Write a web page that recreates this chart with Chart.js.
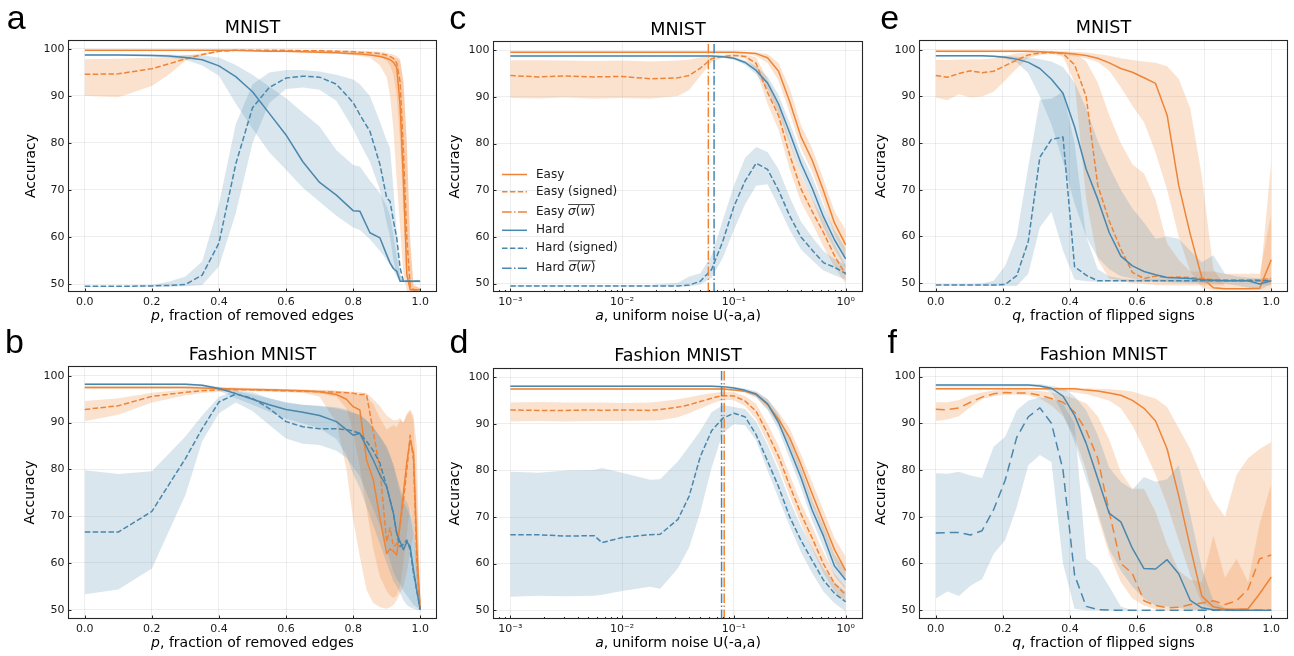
<!DOCTYPE html>
<html><head><meta charset="utf-8">
<script src="https://cdn.jsdelivr.net/npm/chart.js@4.4.1/dist/chart.umd.min.js"></script>
<style>
html,body{margin:0;padding:0;background:#fff;}
#root{position:relative;width:1294px;height:656px;overflow:hidden;background:#fff;}
canvas{position:absolute;}
.lt{position:absolute;font-family:'Liberation Sans',Arial,sans-serif;font-size:34px;line-height:34px;color:#000;}
</style></head><body><div id="root">
<canvas id="pa" width="440" height="330" style="left:0px;top:0px;width:440px;height:330px"></canvas>
<canvas id="pc" width="425" height="330" style="left:440px;top:0px;width:425px;height:330px"></canvas>
<canvas id="pe" width="429" height="330" style="left:865px;top:0px;width:429px;height:330px"></canvas>
<canvas id="pb" width="440" height="326" style="left:0px;top:330px;width:440px;height:326px"></canvas>
<canvas id="pd" width="425" height="326" style="left:440px;top:330px;width:425px;height:326px"></canvas>
<canvas id="pf" width="429" height="326" style="left:865px;top:330px;width:429px;height:326px"></canvas>
<div class="lt" style="left:6.7px;top:0px">a</div>
<div class="lt" style="left:449.3px;top:0px">c</div>
<div class="lt" style="left:880.3px;top:0px">e</div>
<div class="lt" style="left:5.1px;top:324px">b</div>
<div class="lt" style="left:449.5px;top:324px">d</div>
<div class="lt" style="left:887.6px;top:324px">f</div>
</div>
<script>
// ---------- data ----------
const A_X = [0, 0.1, 0.2, 0.25, 0.3, 0.35, 0.4, 0.45, 0.5, 0.55, 0.6, 0.65, 0.7, 0.75, 0.8, 0.82, 0.85, 0.88, 0.9, 0.91, 0.92, 0.93, 0.94, 0.95, 0.96, 0.97, 0.98, 1.0];
const A_EASY = [99.7, 99.7, 99.7, 99.7, 99.7, 99.7, 99.7, 99.7, 99.6, 99.5, 99.5, 99.4, 99.3, 99.2, 99.0, 98.9, 98.7, 98.4, 98.0, 97.7, 97.2, 96.0, 88.0, 72.0, 52.0, 48.8, 48.8, 48.8];
const A_EASY_LO = [99.5, 99.5, 99.5, 99.5, 99.5, 99.5, 99.5, 99.5, 99.4, 99.3, 99.3, 99.2, 99.1, 99.0, 98.7, 98.5, 98.2, 96.5, 94.0, 90.0, 83.0, 72.0, 62.0, 52.0, 48.5, 48.3, 48.3, 48.3];
const A_EASY_HI = [99.85, 99.85, 99.85, 99.85, 99.85, 99.85, 99.85, 99.85, 99.8, 99.75, 99.7, 99.65, 99.6, 99.5, 99.4, 99.3, 99.1, 98.9, 98.6, 98.4, 98.2, 98.0, 97.5, 93.0, 80.0, 58.0, 49.5, 49.2];
const A_EASYS = [94.6, 94.7, 95.8, 96.8, 97.9, 98.8, 99.5, 99.7, 99.7, 99.7, 99.7, 99.6, 99.6, 99.5, 99.4, 99.3, 99.2, 99.0, 98.7, 98.4, 98.0, 97.0, 93.0, 78.0, 60.0, 49.5, 48.8, 48.8];
const A_EASYS_LO = [90.0, 89.7, 92.1, 94.5, 97.5, 98.5, 99.3, 99.5, 99.5, 99.5, 99.5, 99.4, 99.4, 99.3, 99.1, 99.0, 98.8, 98.3, 97.5, 96.5, 94.5, 90.0, 80.0, 65.0, 52.0, 48.7, 48.5, 48.5];
const A_EASYS_HI = [97.8, 97.9, 98.1, 98.3, 98.6, 99.1, 99.7, 99.85, 99.85, 99.85, 99.85, 99.8, 99.8, 99.7, 99.65, 99.6, 99.5, 99.4, 99.2, 99.0, 98.8, 98.5, 97.8, 93.0, 80.0, 60.0, 50.0, 49.0];
const A_HARD = [98.7, 98.7, 98.6, 98.5, 98.2, 97.7, 96.4, 94.1, 90.9, 86.3, 81.7, 76.0, 71.6, 68.9, 65.6, 65.5, 60.9, 59.8, 56.2, 54.5, 53.3, 52.7, 50.6, 50.6, 50.6, 50.6, 50.6, 50.6];
const A_HARD_LO = [98.5, 98.5, 98.4, 98.2, 97.7, 96.5, 94.3, 88.4, 83.0, 78.0, 74.3, 70.5, 67.5, 64.5, 62.0, 61.5, 59.5, 57.0, 55.1, 54.0, 53.0, 51.5, 50.5, 50.4, 50.4, 50.4, 50.4, 50.4];
const A_HARD_HI = [98.9, 98.9, 98.9, 98.8, 98.7, 98.6, 98.2, 96.6, 94.5, 92.0, 89.5, 86.5, 83.5, 78.5, 75.3, 75.0, 72.0, 69.3, 66.5, 64.5, 60.5, 55.8, 52.0, 50.8, 50.8, 50.8, 50.8, 50.8];
const A_HARDS = [49.5, 49.5, 49.6, 49.7, 49.9, 51.9, 58.7, 75.5, 87.5, 91.8, 93.8, 94.2, 94.0, 92.5, 88.6, 86.0, 82.5, 75.4, 68.3, 67.6, 63.5, 59.8, 53.4, 50.6, 50.6, 50.6, 50.6, 50.6];
const A_HARDS_LO = [49.4, 49.4, 49.4, 49.4, 49.5, 49.8, 53.7, 65.0, 80.0, 88.5, 91.5, 91.8, 91.3, 89.0, 83.0, 80.0, 76.0, 70.0, 63.0, 60.0, 55.0, 52.0, 50.5, 50.4, 50.4, 50.4, 50.4, 50.4];
const A_HARDS_HI = [49.6, 49.6, 49.8, 50.5, 51.6, 54.8, 67.0, 84.0, 92.5, 95.0, 95.5, 95.5, 95.2, 94.5, 93.5, 92.5, 90.0, 84.5, 80.5, 79.0, 70.4, 61.0, 52.0, 50.8, 50.8, 50.8, 50.8, 50.8];

const B_X = [0, 0.1, 0.2, 0.3, 0.35, 0.4, 0.45, 0.5, 0.55, 0.6, 0.65, 0.7, 0.75, 0.78, 0.8, 0.82, 0.84, 0.86, 0.88, 0.9, 0.91, 0.92, 0.93, 0.94, 0.95, 0.96, 0.97, 0.98, 0.99, 1.0];
const B_EASY = [97.5, 97.5, 97.5, 97.5, 97.4, 97.3, 97.2, 97.1, 97.0, 96.9, 96.8, 96.6, 96.0, 95.0, 93.4, 92.7, 82.0, 77.8, 69.5, 62.0, 63.0, 62.5, 61.7, 68.5, 75.0, 81.5, 86.3, 83.4, 63.0, 50.0];
const B_EASY_LO = [97.2, 97.2, 97.2, 97.2, 97.1, 97.0, 96.9, 96.8, 96.7, 96.6, 96.4, 95.5, 90.0, 80.0, 69.2, 61.3, 54.2, 51.4, 50.5, 50.2, 50.5, 51.0, 52.0, 53.5, 55.0, 58.0, 62.0, 66.0, 56.0, 49.8];
const B_EASY_HI = [97.8, 97.8, 97.8, 97.8, 97.7, 97.6, 97.5, 97.4, 97.3, 97.2, 97.1, 97.0, 96.8, 96.5, 96.3, 96.0, 95.5, 94.0, 91.0, 88.5, 89.0, 89.5, 89.0, 90.5, 90.0, 91.5, 92.5, 90.5, 75.0, 50.2];
const B_EASYS = [92.8, 93.6, 95.6, 96.5, 96.8, 97.0, 97.0, 97.0, 96.9, 96.8, 96.7, 96.6, 96.5, 96.4, 96.3, 96.0, 96.0, 88.0, 80.0, 64.5, 67.5, 63.5, 64.0, 68.0, 73.4, 79.8, 87.3, 82.0, 60.0, 50.0];
const B_EASYS_LO = [90.3, 91.7, 94.3, 95.8, 96.3, 96.6, 96.7, 96.7, 96.6, 96.5, 96.4, 96.2, 95.5, 93.0, 88.0, 80.5, 71.5, 63.0, 57.0, 54.0, 53.0, 52.5, 53.0, 55.0, 60.0, 66.0, 72.0, 68.0, 55.0, 49.8];
const B_EASYS_HI = [94.6, 95.2, 96.4, 97.1, 97.2, 97.3, 97.3, 97.3, 97.2, 97.1, 97.0, 96.9, 96.8, 96.7, 96.6, 96.5, 96.3, 95.0, 93.5, 91.5, 91.0, 90.5, 90.5, 91.0, 90.0, 92.0, 92.8, 91.5, 85.0, 50.2];
const B_HARD = [98.2, 98.2, 98.2, 98.2, 98.0, 97.3, 96.2, 95.0, 93.8, 92.8, 92.2, 91.5, 90.2, 88.5, 87.3, 87.7, 84.8, 82.0, 78.8, 76.3, 73.4, 70.6, 66.3, 64.5, 62.8, 64.5, 63.5, 58.5, 54.0, 50.0];
const B_HARD_LO = [98.0, 98.0, 98.0, 98.0, 97.7, 96.8, 95.2, 93.8, 92.3, 90.8, 89.8, 88.8, 86.5, 83.0, 79.0, 76.0, 72.0, 68.0, 64.0, 60.0, 58.0, 56.0, 55.0, 53.5, 52.0, 51.0, 50.5, 50.2, 50.0, 49.8];
const B_HARD_HI = [98.4, 98.4, 98.4, 98.4, 98.2, 97.6, 96.8, 96.0, 95.2, 94.4, 93.8, 93.5, 93.0, 92.5, 92.0, 91.8, 90.5, 89.0, 87.0, 85.0, 83.0, 81.0, 78.0, 75.0, 73.0, 71.5, 70.0, 66.0, 58.0, 50.2];
const B_HARDS = [66.6, 66.6, 71.0, 82.3, 88.7, 94.4, 96.1, 95.2, 93.0, 90.2, 89.1, 88.7, 88.7, 88.5, 88.2, 87.7, 86.0, 84.0, 81.3, 76.3, 73.5, 70.6, 66.3, 63.5, 64.0, 64.9, 62.8, 57.8, 54.0, 50.0];
const B_HARDS_LO = [53.3, 54.3, 58.8, 74.5, 86.0, 92.0, 94.3, 92.5, 89.5, 86.6, 85.5, 85.2, 84.0, 82.5, 80.5, 78.5, 75.0, 71.5, 68.0, 63.0, 60.5, 58.0, 56.5, 55.5, 54.0, 53.0, 52.0, 51.0, 50.5, 49.8];
const B_HARDS_HI = [79.8, 79.0, 79.6, 87.0, 91.5, 95.5, 96.8, 96.5, 95.2, 94.2, 93.8, 93.6, 93.3, 92.8, 92.2, 91.5, 90.5, 89.0, 87.0, 84.5, 83.0, 81.0, 78.5, 76.0, 74.0, 73.0, 71.0, 68.0, 60.0, 50.2];

const C_X = [0.001, 0.00178, 0.00316, 0.00562, 0.01, 0.0178, 0.0316, 0.0398, 0.0501, 0.0631, 0.0794, 0.1, 0.126, 0.158, 0.2, 0.251, 0.316, 0.398, 0.501, 0.631, 0.794, 1.0];
const C_EASY = [99.6, 99.6, 99.6, 99.6, 99.6, 99.6, 99.6, 99.6, 99.6, 99.6, 99.6, 99.6, 99.5, 99.3, 98.4, 95.5, 89.0, 81.5, 76.5, 70.0, 63.0, 58.3];
const C_EASY_LO = [99.4, 99.4, 99.4, 99.4, 99.4, 99.4, 99.4, 99.4, 99.4, 99.4, 99.4, 99.4, 99.2, 98.8, 97.3, 93.5, 86.5, 79.0, 74.0, 67.5, 60.5, 55.5];
const C_EASY_HI = [99.8, 99.8, 99.8, 99.8, 99.8, 99.8, 99.8, 99.8, 99.8, 99.8, 99.8, 99.8, 99.7, 99.6, 99.2, 97.3, 91.8, 84.0, 79.0, 72.5, 65.5, 61.5];
const C_EASYS = [94.6, 94.3, 94.5, 94.3, 94.4, 93.9, 94.1, 94.6, 96.2, 98.2, 98.7, 98.9, 98.7, 97.2, 91.0, 86.0, 77.5, 70.3, 65.5, 61.0, 56.0, 51.9];
const C_EASYS_LO = [89.8, 89.7, 89.9, 89.6, 89.8, 89.6, 90.2, 91.5, 94.5, 97.5, 98.4, 98.6, 98.2, 95.8, 88.5, 83.0, 74.5, 67.5, 63.0, 58.0, 53.5, 50.0];
const C_EASYS_HI = [97.9, 97.9, 97.8, 97.7, 97.8, 97.6, 97.8, 98.0, 98.5, 98.8, 99.0, 99.2, 99.1, 98.5, 93.8, 89.0, 80.5, 73.3, 68.2, 63.8, 58.5, 54.0];
const C_HARD = [98.8, 98.8, 98.8, 98.8, 98.8, 98.8, 98.8, 98.8, 98.8, 98.8, 98.6, 98.3, 97.4, 95.7, 93.0, 88.5, 82.3, 75.8, 70.5, 64.4, 59.4, 55.3];
const C_HARD_LO = [98.6, 98.6, 98.6, 98.6, 98.6, 98.6, 98.6, 98.6, 98.6, 98.6, 98.4, 98.0, 96.9, 94.8, 91.6, 86.5, 80.0, 73.5, 68.0, 62.0, 57.3, 53.3];
const C_HARD_HI = [99.0, 99.0, 99.0, 99.0, 99.0, 99.0, 99.0, 99.0, 99.0, 99.0, 98.8, 98.6, 97.9, 96.6, 94.4, 90.5, 84.5, 78.0, 73.0, 66.8, 61.5, 57.5];
const C_HARDS = [49.5, 49.5, 49.5, 49.5, 49.5, 49.5, 49.5, 49.7, 50.5, 53.0, 59.0, 66.5, 72.0, 75.8, 74.5, 70.0, 64.5, 60.0, 57.2, 54.5, 53.5, 52.2];
const C_HARDS_LO = [49.4, 49.4, 49.4, 49.4, 49.4, 49.4, 49.4, 49.4, 49.8, 51.2, 55.5, 61.5, 67.0, 71.0, 71.3, 66.5, 61.5, 57.3, 55.0, 52.8, 51.8, 50.8];
const C_HARDS_HI = [49.7, 49.7, 49.7, 49.7, 49.7, 49.7, 50.2, 51.5, 52.2, 56.0, 63.5, 71.0, 77.0, 79.3, 78.2, 74.5, 68.5, 63.3, 60.0, 57.0, 55.3, 54.0];
const C_SIGMA = [0.0591, 0.0665];   // Easy, Hard

const D_X = [0.001, 0.00178, 0.00316, 0.00562, 0.00661, 0.01, 0.0178, 0.0219, 0.0316, 0.0398, 0.0501, 0.0631, 0.0794, 0.1, 0.126, 0.158, 0.2, 0.251, 0.316, 0.398, 0.501, 0.631, 0.794, 1.0];
const D_EASY = [97.5, 97.5, 97.5, 97.5, 97.5, 97.5, 97.5, 97.5, 97.5, 97.5, 97.5, 97.5, 97.5, 97.3, 97.0, 96.3, 94.2, 91.0, 87.0, 81.3, 75.0, 69.0, 63.0, 58.5];
const D_EASY_LO = [97.3, 97.3, 97.3, 97.3, 97.3, 97.3, 97.3, 97.3, 97.3, 97.3, 97.3, 97.3, 97.3, 97.1, 96.7, 95.7, 93.2, 89.7, 85.2, 79.0, 72.5, 66.5, 60.5, 55.8];
const D_EASY_HI = [97.7, 97.7, 97.7, 97.7, 97.7, 97.7, 97.7, 97.7, 97.7, 97.7, 97.7, 97.7, 97.7, 97.5, 97.3, 96.8, 95.3, 92.5, 89.0, 83.5, 77.5, 71.5, 65.5, 61.5];
const D_EASYS = [93.0, 92.9, 92.9, 93.0, 92.9, 93.0, 92.9, 93.1, 93.6, 94.1, 94.8, 95.5, 96.1, 96.0, 94.9, 92.7, 88.0, 83.0, 76.7, 70.7, 65.5, 60.0, 55.7, 53.3];
const D_EASYS_LO = [90.5, 90.6, 90.5, 90.6, 90.6, 90.6, 90.7, 90.8, 91.4, 92.3, 93.3, 94.3, 95.2, 95.1, 93.8, 91.0, 86.0, 80.8, 74.5, 68.5, 63.2, 58.0, 54.0, 51.5];
const D_EASYS_HI = [94.6, 94.7, 94.6, 94.6, 94.6, 94.5, 94.6, 94.8, 95.3, 95.7, 96.2, 96.6, 96.9, 96.8, 96.0, 94.3, 90.0, 85.3, 79.0, 73.0, 68.0, 62.5, 57.8, 55.0];
const D_HARD = [98.1, 98.1, 98.1, 98.1, 98.1, 98.1, 98.1, 98.1, 98.1, 98.1, 98.1, 98.1, 98.0, 97.7, 97.2, 96.4, 94.3, 90.3, 84.5, 78.5, 71.5, 66.0, 59.5, 56.5];
const D_HARD_LO = [97.9, 97.9, 97.9, 97.9, 97.9, 97.9, 97.9, 97.9, 97.9, 97.9, 97.9, 97.9, 97.8, 97.4, 96.8, 95.7, 93.0, 88.7, 82.5, 76.3, 69.3, 63.5, 57.3, 54.5];
const D_HARD_HI = [98.3, 98.3, 98.3, 98.3, 98.3, 98.3, 98.3, 98.3, 98.3, 98.3, 98.3, 98.3, 98.2, 98.0, 97.6, 97.0, 95.4, 92.0, 86.5, 80.6, 73.7, 68.2, 62.0, 58.5];
const D_HARDS = [66.2, 66.2, 65.9, 66.0, 64.5, 65.6, 66.2, 66.3, 69.5, 74.5, 83.0, 88.5, 91.2, 92.3, 91.5, 87.7, 82.0, 76.5, 70.0, 65.0, 60.7, 56.5, 53.6, 51.8];
const D_HARDS_LO = [52.9, 53.1, 53.0, 53.1, 53.3, 54.1, 55.0, 54.6, 59.0, 63.5, 71.0, 80.5, 88.0, 89.9, 89.7, 86.5, 80.0, 74.0, 68.0, 62.5, 58.0, 54.0, 51.5, 49.7];
const D_HARDS_HI = [79.7, 79.5, 80.0, 80.1, 80.5, 79.5, 78.0, 78.1, 82.0, 85.2, 88.5, 92.5, 94.0, 93.6, 93.2, 90.5, 85.5, 80.0, 73.5, 68.0, 63.5, 59.0, 56.0, 54.0];
const D_SIGMA = [0.0819, 0.0776];   // Easy, Hard

const Q_X = [0, 0.0345, 0.069, 0.1034, 0.1379, 0.1724, 0.2069, 0.2414, 0.2759, 0.3103, 0.3448, 0.3793, 0.4138, 0.4483, 0.4828, 0.5172, 0.5517, 0.5862, 0.6207, 0.6552, 0.6897, 0.7241, 0.7586, 0.7931, 0.8276, 0.8621, 0.8966, 0.931, 0.9655, 1.0];
const E_EASY = [99.7, 99.7, 99.7, 99.7, 99.7, 99.7, 99.7, 99.7, 99.7, 99.6, 99.5, 99.3, 99.1, 98.8, 98.2, 97.2, 96.0, 95.2, 94.0, 92.8, 86.0, 71.0, 60.5, 51.2, 49.0, 48.8, 48.8, 48.8, 48.9, 55.0];
const E_EASY_LO = [99.5, 99.5, 99.5, 99.5, 99.5, 99.5, 99.5, 99.5, 99.5, 99.4, 99.2, 98.9, 98.6, 98.2, 97.4, 95.5, 92.0, 88.0, 84.5, 78.0, 70.0, 60.0, 52.5, 49.0, 48.5, 48.5, 48.5, 48.5, 48.5, 48.5];
const E_EASY_HI = [99.9, 99.9, 99.9, 99.9, 99.9, 99.9, 99.9, 99.9, 99.9, 99.85, 99.8, 99.7, 99.6, 99.4, 99.1, 98.7, 98.2, 97.8, 97.5, 97.2, 96.5, 93.8, 87.5, 73.0, 53.0, 49.5, 49.5, 49.5, 49.5, 76.0];
const E_EASYS = [94.5, 94.1, 94.9, 95.5, 95.1, 95.4, 96.6, 97.8, 98.9, 99.3, 99.4, 99.2, 96.8, 90.0, 71.0, 63.3, 57.3, 52.3, 51.0, 51.5, 51.2, 51.3, 51.2, 51.0, 50.7, 50.7, 50.7, 50.7, 50.7, 51.0];
const E_EASYS_LO = [89.8, 89.2, 90.5, 89.8, 90.0, 91.0, 93.5, 96.0, 98.3, 98.9, 99.1, 98.5, 93.0, 68.0, 55.0, 51.0, 50.5, 50.0, 49.8, 49.6, 49.5, 49.5, 49.5, 49.5, 49.5, 49.5, 49.5, 49.5, 49.5, 49.5];
const E_EASYS_HI = [97.8, 97.8, 97.9, 98.0, 98.0, 98.2, 98.7, 99.2, 99.5, 99.6, 99.6, 99.6, 99.3, 97.5, 93.0, 86.0, 80.0, 75.5, 73.5, 68.0, 58.5, 55.0, 52.5, 52.5, 52.5, 52.0, 52.0, 52.0, 52.0, 65.0];
const E_HARD = [98.7, 98.7, 98.7, 98.7, 98.7, 98.6, 98.4, 98.0, 97.3, 96.0, 93.7, 90.7, 83.5, 74.4, 68.0, 60.8, 55.8, 53.7, 52.5, 51.8, 51.2, 51.1, 51.0, 50.7, 50.6, 50.5, 50.5, 50.5, 49.8, 50.5];
const E_HARD_LO = [98.5, 98.5, 98.5, 98.5, 98.5, 98.4, 98.1, 97.3, 95.0, 90.0, 84.0, 76.0, 67.0, 60.0, 55.5, 53.0, 51.5, 51.0, 50.6, 50.4, 50.2, 50.1, 50.0, 50.0, 49.9, 49.8, 49.5, 49.0, 48.5, 49.8];
const E_HARD_HI = [98.9, 98.9, 98.9, 98.9, 98.9, 98.8, 98.7, 98.5, 98.4, 98.0, 97.5, 96.3, 93.0, 87.5, 80.5, 75.0, 70.0, 66.0, 63.0, 59.5, 60.0, 59.5, 57.0, 54.5, 56.0, 52.0, 51.5, 51.2, 51.0, 51.0];
const E_HARDS = [49.6, 49.6, 49.6, 49.6, 49.6, 49.6, 49.7, 51.6, 59.0, 77.0, 80.8, 81.3, 53.5, 51.7, 50.5, 50.5, 50.5, 50.5, 50.5, 50.5, 50.5, 50.5, 50.5, 50.5, 50.5, 50.5, 50.5, 50.5, 50.5, 50.5];
const E_HARDS_LO = [49.4, 49.4, 49.4, 49.4, 49.4, 49.4, 49.4, 49.4, 52.0, 62.0, 65.3, 57.0, 50.8, 50.4, 50.3, 50.3, 50.3, 50.3, 50.3, 50.3, 50.3, 50.3, 50.3, 50.3, 50.3, 50.3, 50.3, 50.3, 50.3, 50.3];
const E_HARDS_HI = [49.8, 49.8, 49.8, 49.8, 49.9, 50.5, 53.7, 60.1, 75.0, 89.3, 89.5, 91.0, 80.0, 60.0, 53.0, 51.5, 51.0, 50.8, 50.8, 50.8, 50.8, 50.8, 50.8, 50.8, 50.8, 50.8, 50.8, 50.8, 50.8, 50.8];

const F_EASY = [97.4, 97.4, 97.4, 97.4, 97.4, 97.4, 97.4, 97.4, 97.4, 97.4, 97.4, 97.4, 97.4, 97.1, 96.9, 96.5, 96.0, 94.9, 93.2, 90.5, 84.5, 74.5, 63.5, 53.0, 50.7, 50.2, 50.2, 50.3, 53.5, 57.1];
const F_EASY_LO = [97.2, 97.2, 97.2, 97.2, 97.2, 97.2, 97.2, 97.2, 97.2, 97.2, 97.1, 96.9, 96.6, 96.2, 95.6, 94.8, 93.2, 89.5, 84.5, 79.0, 72.5, 65.0, 57.5, 51.5, 50.2, 50.0, 50.0, 50.0, 50.0, 50.0];
const F_EASY_HI = [97.6, 97.6, 97.6, 97.6, 97.6, 97.6, 97.6, 97.6, 97.6, 97.6, 97.6, 97.6, 97.6, 97.5, 97.4, 97.3, 97.1, 96.8, 96.0, 95.3, 93.5, 89.0, 84.5, 78.5, 73.5, 70.0, 79.0, 82.5, 84.5, 86.0];
const F_EASYS = [93.0, 92.9, 93.3, 94.5, 95.6, 96.3, 96.6, 96.5, 96.5, 96.0, 95.3, 94.5, 92.4, 88.5, 82.5, 71.0, 60.0, 57.8, 52.0, 51.0, 50.5, 50.6, 51.2, 51.5, 52.0, 51.2, 52.0, 54.5, 61.0, 61.8];
const F_EASYS_LO = [90.5, 90.8, 91.5, 93.5, 95.2, 95.8, 96.1, 96.1, 96.0, 95.3, 93.8, 91.5, 87.0, 80.0, 70.0, 62.0, 56.0, 52.5, 51.0, 50.2, 50.0, 50.0, 50.0, 50.0, 50.0, 50.0, 50.0, 50.0, 50.0, 50.0];
const F_EASYS_HI = [94.5, 94.5, 95.0, 96.0, 96.6, 97.0, 97.1, 97.1, 97.0, 96.9, 96.6, 96.0, 95.3, 94.3, 91.5, 86.5, 79.5, 76.0, 76.0, 71.0, 64.0, 58.5, 56.5, 56.0, 66.0, 57.0, 61.0, 56.0, 68.5, 77.0];
const F_HARD = [98.2, 98.2, 98.2, 98.2, 98.2, 98.2, 98.2, 98.2, 98.2, 98.0, 97.5, 95.8, 91.7, 85.7, 78.2, 70.7, 68.9, 63.2, 58.9, 58.8, 60.8, 57.8, 52.1, 50.5, 50.1, 50.0, 50.0, 50.0, 50.0, 50.0];
const F_HARD_LO = [97.9, 97.9, 97.9, 97.9, 97.9, 97.9, 97.9, 97.9, 97.9, 97.9, 96.5, 92.0, 86.0, 78.0, 71.0, 63.0, 58.5, 55.0, 52.5, 51.0, 50.8, 50.5, 50.1, 50.0, 50.0, 50.0, 50.0, 50.0, 50.0, 50.0];
const F_HARD_HI = [98.4, 98.4, 98.4, 98.4, 98.4, 98.4, 98.4, 98.4, 98.4, 98.4, 98.0, 97.5, 95.8, 92.8, 87.5, 80.5, 77.5, 75.8, 78.5, 77.5, 78.0, 81.0, 70.5, 59.0, 52.0, 50.5, 50.0, 50.0, 50.0, 50.0];
const F_HARDS = [66.5, 66.6, 66.6, 66.1, 67.0, 71.5, 77.8, 87.0, 91.4, 93.3, 90.0, 80.0, 57.5, 50.8, 50.1, 50.0, 50.0, 50.0, 50.0, 50.0, 50.0, 50.0, 50.0, 50.0, 50.0, 50.0, 50.0, 50.0, 50.0, 50.0];
const F_HARDS_LO = [52.5, 54.0, 53.0, 55.2, 56.6, 62.0, 65.0, 72.0, 81.0, 83.2, 81.7, 60.0, 50.3, 50.0, 50.0, 50.0, 50.0, 50.0, 50.0, 50.0, 50.0, 50.0, 50.0, 50.0, 50.0, 50.0, 50.0, 50.0, 50.0, 50.0];
const F_HARDS_HI = [79.3, 79.2, 79.6, 78.8, 78.3, 85.0, 87.1, 92.8, 94.9, 95.5, 95.3, 94.2, 90.0, 61.0, 59.0, 55.0, 50.8, 50.0, 50.0, 50.0, 50.0, 50.0, 50.0, 50.0, 50.0, 50.0, 50.0, 50.0, 50.0, 50.0];

const LIN_TICKS = [0, 0.2, 0.4, 0.6, 0.8, 1.0];
const LOG_TICKS = [0.001, 0.01, 0.1, 1];
const LOG_LABELS = ['10\u207B\u00B3', '10\u207B\u00B2', '10\u207B\u00B9', '10\u2070'];
const Y_TICKS = [50, 60, 70, 80, 90, 100];
const LEGEND_LABELS = ['Easy', 'Easy (signed)', 'Easy', 'Hard', 'Hard (signed)', 'Hard'];

// ---------- styles ----------
const ORANGE = '#EF8436', BLUE = '#4A87AD';
const ORANGE_FILL = 'rgba(239,132,54,0.24)', BLUE_FILL = 'rgba(74,135,173,0.21)';
const DASH = [5.5, 2.4], LONGDASH = [9, 5], DASHDOT = [9.6, 2.4, 1.5, 2.4];
const FONT = "'DejaVu Sans', sans-serif";
const TXT = '#1a1a1a';

function pts(xs, ys) { return xs.map((x, i) => ({x: x, y: ys[i]})); }
function lineDS(label, xs, ys, color, dash, order) {
  return {label, data: pts(xs, ys), borderColor: color, borderWidth: 1.5, borderDash: dash || [],
    pointRadius: 0, tension: 0, fill: false, order, borderJoinStyle: 'round'};
}
function bandDS(xs, lo, hi, color, order) {
  return [
    {data: pts(xs, hi), borderWidth: 0, borderColor: 'rgba(0,0,0,0)', backgroundColor: color, pointRadius: 0, fill: '+1', order},
    {data: pts(xs, lo), borderWidth: 0, borderColor: 'rgba(0,0,0,0)', backgroundColor: 'rgba(0,0,0,0)', pointRadius: 0, fill: false, order}
  ];
}

function framePlugin(p) {
  return {
    id: 'frame_' + p.id,
    afterDraw(chart) {
      const ctx = chart.ctx, a = chart.chartArea, xs = chart.scales.x, ys = chart.scales.y;
      const L = Math.round(a.left), R = Math.round(a.right), T = Math.round(a.top), B = Math.round(a.bottom);
      ctx.save();
      ctx.strokeStyle = '#262626';
      ctx.lineWidth = 1;
      ctx.beginPath();
      xs.ticks.forEach(t => { const px = Math.round(xs.getPixelForValue(t.value)) + 0.5; ctx.moveTo(px, B); ctx.lineTo(px, B - 3.5); });
      ys.ticks.forEach(t => { const py = Math.round(ys.getPixelForValue(t.value)) + 0.5; ctx.moveTo(L, py); ctx.lineTo(L + 3.5, py); });
      if (p.log) {
        for (let e = -4; e <= 0; e++) for (let k = 2; k <= 9; k++) {
          const v = k * Math.pow(10, e);
          if (v > xs.min && v < xs.max) { const px = Math.round(xs.getPixelForValue(v)) + 0.5; ctx.moveTo(px, B); ctx.lineTo(px, B - 2); }
        }
      }
      ctx.stroke();
      ctx.lineWidth = 1.1;
      ctx.strokeRect(L + 0.5, T + 0.5, R - L - 1, B - T - 1);
      // x label with italic variable
      ctx.fillStyle = '#000';
      ctx.textBaseline = 'alphabetic';
      ctx.font = 'italic 14px ' + FONT;
      const w1 = ctx.measureText(p.xvar).width;
      ctx.font = '14px ' + FONT;
      const w2 = ctx.measureText(p.xrest).width;
      const x0 = (a.left + a.right) / 2 - (w1 + w2) / 2;
      const yb = B + 28;
      ctx.font = 'italic 14px ' + FONT;
      ctx.fillText(p.xvar, x0, yb);
      ctx.font = '14px ' + FONT;
      ctx.fillText(p.xrest, x0 + w1, yb);
      ctx.restore();
    }
  };
}

const legendPlugin = {
  id: 'legendC',
  afterDraw(chart) {
    const ctx = chart.ctx;
    const rows = [
      [ORANGE, [], 174.5, false], [ORANGE, DASH, 191.7, false], [ORANGE, DASHDOT, 212, true],
      [BLUE, [], 230.3, false], [BLUE, DASH, 248.3, false], [BLUE, DASHDOT, 268.3, true]
    ];
    ctx.save();
    rows.forEach((r, i) => {
      const [c, d, y, sig] = r;
      ctx.strokeStyle = c; ctx.lineWidth = 1.5; ctx.setLineDash(d);
      ctx.beginPath(); ctx.moveTo(62, y); ctx.lineTo(87, y); ctx.stroke();
      ctx.setLineDash([]);
      ctx.fillStyle = TXT; ctx.textBaseline = 'middle'; ctx.textAlign = 'left';
      ctx.font = '12px ' + FONT;
      const txt = LEGEND_LABELS[i] + (sig ? ' ' : '');
      ctx.fillText(txt, 96, y);
      if (sig) {
        let x = 96 + ctx.measureText(txt).width;
        const x0 = x;
        const parts = [['\u03C3', true], ['(', false], ['w', true], [')', false]];
        parts.forEach(([s, it]) => {
          ctx.font = (it ? 'italic ' : '') + '12px ' + FONT;
          ctx.fillText(s, x, y);
          x += ctx.measureText(s).width;
        });
        ctx.strokeStyle = TXT; ctx.lineWidth = 0.8;
        ctx.beginPath(); ctx.moveTo(x0, y - 7.5); ctx.lineTo(x, y - 7.5); ctx.stroke();
      }
    });
    ctx.restore();
  }
};

function makePanel(p) {
  const ds = [];
  if (p.sigma) {
    ds.push({data: [{x: p.sigma[1], y: p.ymin}, {x: p.sigma[1], y: p.ymax}], borderColor: BLUE, borderWidth: 1.5, borderDash: DASHDOT, pointRadius: 0, fill: false, order: 0});
    ds.push({data: [{x: p.sigma[0], y: p.ymin}, {x: p.sigma[0], y: p.ymax}], borderColor: ORANGE, borderWidth: 1.5, borderDash: DASHDOT, pointRadius: 0, fill: false, order: 0.5});
  }
  ds.push(lineDS('Hard (signed)', p.x, p.hs, BLUE, p.dash, 1));
  ds.push(lineDS('Hard', p.x, p.h, BLUE, null, 2));
  ds.push(lineDS('Easy (signed)', p.x, p.es, ORANGE, p.dash, 3));
  ds.push(lineDS('Easy', p.x, p.e, ORANGE, null, 4));
  ds.push(...bandDS(p.x, p.hsLo, p.hsHi, BLUE_FILL, 10));
  ds.push(...bandDS(p.x, p.hLo, p.hHi, BLUE_FILL, 11));
  ds.push(...bandDS(p.x, p.esLo, p.esHi, ORANGE_FILL, 12));
  ds.push(...bandDS(p.x, p.eLo, p.eHi, ORANGE_FILL, 13));

  const tickFont = {family: FONT, size: 11};
  const plugins = [framePlugin(p)];
  if (p.legend) plugins.push(legendPlugin);
  new Chart(document.getElementById(p.id), {
    type: 'line',
    data: {datasets: ds},
    options: {
      animation: false, responsive: false, devicePixelRatio: 1,
      layout: {padding: {left: 0, right: p.padR, top: 0, bottom: 0}, autoPadding: false},
      plugins: {
        legend: {display: false}, tooltip: {enabled: false},
        title: {display: true, text: p.title, fullSize: false, color: '#000',
          font: {family: FONT, size: 17.6, weight: 'normal', lineHeight: 1},
          padding: {top: p.t1, bottom: p.t2}}
      },
      scales: {
        x: {
          type: p.log ? 'logarithmic' : 'linear',
          min: p.xmin, max: p.xmax,
          afterBuildTicks: s => { s.ticks = (p.log ? LOG_TICKS : LIN_TICKS).map(v => ({value: v})); },
          afterFit: s => { s.height = p.padB; },
          grid: {color: 'rgba(0,0,0,0.065)', lineWidth: 1, drawTicks: false},
          border: {display: false},
          ticks: {padding: 4, font: tickFont, color: TXT, autoSkip: false, maxRotation: 0, minRotation: 0,
            callback: v => p.log ? LOG_LABELS[LOG_TICKS.indexOf(v)] : Number(v).toFixed(1)}
        },
        y: {
          type: 'linear', min: p.ymin, max: p.ymax,
          afterBuildTicks: s => { s.ticks = Y_TICKS.map(v => ({value: v})); },
          afterFit: s => { s.width = p.padL; },
          grid: {color: 'rgba(0,0,0,0.065)', lineWidth: 1, drawTicks: false},
          border: {display: false},
          ticks: {padding: 3.5, font: tickFont, color: TXT, autoSkip: false, callback: v => String(v)},
          title: {display: true, text: 'Accuracy', color: '#000', font: {family: FONT, size: 14},
            padding: {top: p.ytp, bottom: 0}}
        }
      }
    },
    plugins
  });
}

const LOGMIN = Math.pow(10, -3.155), LOGMAX = Math.pow(10, 0.155);

makePanel({id: 'pa', title: 'MNIST', x: A_X, e: A_EASY, eLo: A_EASY_LO, eHi: A_EASY_HI, es: A_EASYS, esLo: A_EASYS_LO, esHi: A_EASYS_HI,
  h: A_HARD, hLo: A_HARD_LO, hHi: A_HARD_HI, hs: A_HARDS, hsLo: A_HARDS_LO, hsHi: A_HARDS_HI, dash: DASH,
  xmin: -0.05, xmax: 1.05, ymin: 48.3, ymax: 101.9, padL: 68, padR: 3, padB: 38, t1: 19.6, t2: 2.8, ytp: 22.6,
  xvar: 'p', xrest: ', fraction of removed edges'});
makePanel({id: 'pb', title: 'Fashion MNIST', x: B_X, e: B_EASY, eLo: B_EASY_LO, eHi: B_EASY_HI, es: B_EASYS, esLo: B_EASYS_LO, esHi: B_EASYS_HI,
  h: B_HARD, hLo: B_HARD_LO, hHi: B_HARD_HI, hs: B_HARDS, hsLo: B_HARDS_LO, hsHi: B_HARDS_HI, dash: DASH,
  xmin: -0.05, xmax: 1.05, ymin: 48.0, ymax: 102.1, padL: 68, padR: 3, padB: 37, t1: 16.2, t2: 2.2, ytp: 21.7,
  xvar: 'p', xrest: ', fraction of removed edges'});
makePanel({id: 'pc', title: 'MNIST', log: true, legend: true, sigma: C_SIGMA, x: C_X, e: C_EASY, eLo: C_EASY_LO, eHi: C_EASY_HI, es: C_EASYS, esLo: C_EASYS_LO, esHi: C_EASYS_HI,
  h: C_HARD, hLo: C_HARD_LO, hHi: C_HARD_HI, hs: C_HARDS, hsLo: C_HARDS_LO, hsHi: C_HARDS_HI, dash: DASH,
  xmin: LOGMIN, xmax: LOGMAX, ymin: 48.2, ymax: 102.0, padL: 53, padR: 2, padB: 38, t1: 21.2, t2: 2.2, ytp: 6.7,
  xvar: 'a', xrest: ', uniform noise U(-a,a)'});
makePanel({id: 'pd', title: 'Fashion MNIST', log: true, sigma: D_SIGMA, x: D_X, e: D_EASY, eLo: D_EASY_LO, eHi: D_EASY_HI, es: D_EASYS, esLo: D_EASYS_LO, esHi: D_EASYS_HI,
  h: D_HARD, hLo: D_HARD_LO, hHi: D_HARD_HI, hs: D_HARDS, hsLo: D_HARDS_LO, hsHi: D_HARDS_HI, dash: DASH,
  xmin: LOGMIN, xmax: LOGMAX, ymin: 48.1, ymax: 102.0, padL: 53, padR: 2, padB: 37, t1: 17.5, t2: 2.9, ytp: 6.7,
  xvar: 'a', xrest: ', uniform noise U(-a,a)'});
makePanel({id: 'pe', title: 'MNIST', x: Q_X, e: E_EASY, eLo: E_EASY_LO, eHi: E_EASY_HI, es: E_EASYS, esLo: E_EASYS_LO, esHi: E_EASYS_HI,
  h: E_HARD, hLo: E_HARD_LO, hHi: E_HARD_HI, hs: E_HARDS, hsLo: E_HARDS_LO, hsHi: E_HARDS_HI, dash: DASH,
  xmin: -0.05, xmax: 1.05, ymin: 48.1, ymax: 102.1, padL: 54, padR: 6, padB: 38, t1: 20.0, t2: 2.4, ytp: 7.7,
  xvar: 'q', xrest: ', fraction of flipped signs'});
makePanel({id: 'pf', title: 'Fashion MNIST', x: Q_X, e: F_EASY, eLo: F_EASY_LO, eHi: F_EASY_HI, es: F_EASYS, esLo: F_EASYS_LO, esHi: F_EASYS_HI,
  h: F_HARD, hLo: F_HARD_LO, hHi: F_HARD_HI, hs: F_HARDS, hsLo: F_HARDS_LO, hsHi: F_HARDS_HI, dash: LONGDASH,
  xmin: -0.05, xmax: 1.05, ymin: 48.1, ymax: 102.05, padL: 54, padR: 6, padB: 37, t1: 16.7, t2: 2.7, ytp: 8.4,
  xvar: 'q', xrest: ', fraction of flipped signs'});
</script></body></html>
